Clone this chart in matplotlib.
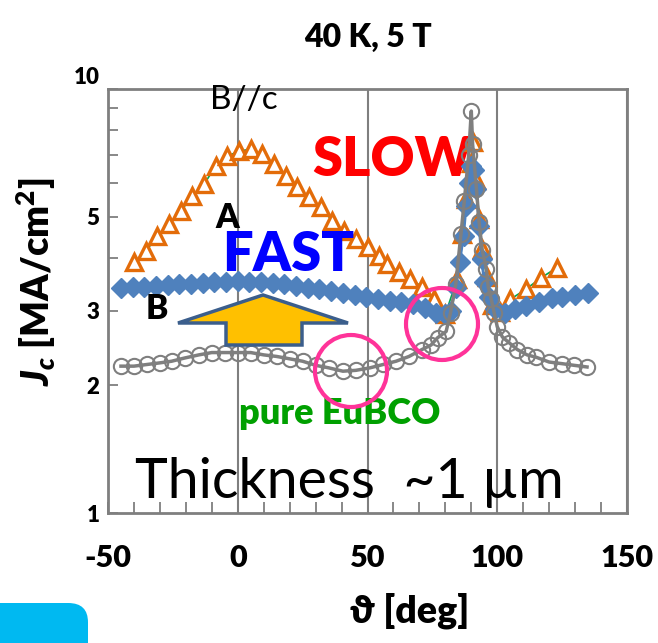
import matplotlib
matplotlib.use("Agg")
import matplotlib.pyplot as plt
import matplotlib.patches as mpatches
from matplotlib.ticker import FixedLocator, NullFormatter
import matplotlib.transforms as mtransforms

plt.rcParams["font.family"] = ["Lato", "DejaVu Sans"]
plt.rcParams["axes.unicode_minus"] = False
plt.rcParams["mathtext.fontset"] = "custom"
plt.rcParams["mathtext.rm"] = "Lato:heavy"
plt.rcParams["mathtext.it"] = "Lato:heavy:italic"
plt.rcParams["mathtext.bf"] = "Lato:heavy"

# sample A (slow) - triangles
angle_a = [-40, -35.5, -31, -26.5, -22, -17.5, -13, -8.5, -4, 0.5, 5, 9.5, 14, 18.5,
           23, 27.5, 32, 36.5, 41, 45.5, 50, 54.5, 57.5, 62, 66.5, 71, 75.5, 80,
           84.5, 86.5, 88, 90, 90.5, 92, 93, 94, 96, 98, 101, 105, 111, 117, 123]
jc_a = [3.9, 4.14, 4.49, 4.80, 5.15, 5.58, 5.96, 6.58, 6.94, 7.14, 7.21, 7.02, 6.65, 6.23,
        5.86, 5.55, 5.26, 4.88, 4.62, 4.42, 4.23, 4.03, 3.86, 3.71, 3.56, 3.42, 3.19, 2.94,
        3.56, 4.54, 5.5, 6.7, 7.5, 6.1, 4.93, 4.19, 3.6, 3.1, 2.98, 3.19, 3.37, 3.59, 3.79]

# sample B (fast) - diamonds
angle_b = [-45, -40.5, -36, -31.5, -27, -22.5, -18, -13.5, -9, -4.5, 0, 4.5, 9, 13.5,
           18, 22.5, 27, 31.5, 36, 40.5, 45, 49.5, 54, 58.5, 63, 67.5, 72, 76.5, 80,
           82, 84, 85.5, 87, 88, 89, 90, 91, 92, 93, 94, 95, 97, 99, 103, 107, 111,
           116, 121, 125, 130, 135]
jc_b = [3.40, 3.41, 3.42, 3.43, 3.45, 3.46, 3.47, 3.49, 3.50, 3.51, 3.52, 3.51, 3.50, 3.48,
        3.46, 3.43, 3.40, 3.37, 3.34, 3.30, 3.27, 3.23, 3.19, 3.16, 3.14, 3.11, 3.05, 2.97, 2.94,
        3.00, 3.40, 3.9, 4.5, 5.3, 6.0, 6.6, 6.45, 5.8, 4.75, 3.97, 3.5, 3.24, 3.02, 2.97, 3.02,
        3.07, 3.15, 3.22, 3.24, 3.27, 3.31]

# pure EuBCO - open circles
angle_p = [-45, -40, -35, -30, -25.5, -20.5, -15, -10, -5, 0, 5, 10, 15, 20, 25, 30, 35,
           40.5, 45.5, 51, 56, 61, 66, 71, 74.5, 77, 80.3, 82, 84, 86, 87.3, 89, 90, 90.5,
           92, 93, 94.2, 95.8, 96.5, 97.7, 98.8, 100, 102, 104.6, 107.7, 111.5, 115, 120,
           125, 129.6, 134.6]
jc_p = [2.22, 2.22, 2.24, 2.26, 2.28, 2.32, 2.36, 2.39, 2.39, 2.39, 2.39, 2.36, 2.34, 2.31,
        2.28, 2.23, 2.20, 2.16, 2.17, 2.20, 2.24, 2.28, 2.34, 2.43, 2.49, 2.59, 2.68, 2.97,
        3.46, 4.54, 5.44, 7.0, 8.87, 7.41, 5.8, 4.85, 4.18, 3.76, 3.42, 3.19, 2.97, 2.75,
        2.6, 2.52, 2.43, 2.36, 2.33, 2.27, 2.25, 2.23, 2.21]

x_ticks = [-50, 0, 50, 100, 150]
y_ticks = [1, 2, 3, 5, 10]

fig = plt.figure(figsize=(6.58, 6.43), dpi=100)
ax = fig.add_axes([108 / 658, 1 - 513 / 643, 519 / 658, 424 / 643])

ax.plot(angle_a, jc_a, color="#00A650", lw=1.2, marker="^", ms=11, mfc="white",
        mec="#E36C09", mew=2.4, zorder=3)
ax.plot(angle_b, jc_b, color="#4F81BD", lw=2, marker="D", ms=10, mfc="#4F81BD",
        mec="#4F81BD", zorder=4)
ax.plot(angle_p, jc_p, color="#7F7F7F", lw=2.5, marker="o", ms=11, mfc="none",
        mec="#7F7F7F", mew=1.5, zorder=5)

ax.set_yscale("log")
ax.set_xlim(-50, 150)
ax.set_ylim(1, 10)
ax.set_xticks(x_ticks)
ax.set_xticks(range(-50, 151, 10), minor=True)
ax.yaxis.set_major_locator(FixedLocator(y_ticks))
ax.yaxis.set_minor_locator(FixedLocator([4, 6, 7, 8, 9]))
ax.yaxis.set_minor_formatter(NullFormatter())
ax.set_yticklabels([str(v) for v in y_ticks])
ax.grid(axis="x", which="major", color="#7F7F7F", lw=1.5)
ax.tick_params(axis="x", which="both", direction="in", length=8, color="#7F7F7F",
               width=1.3, labelsize=22, pad=22)
ax.tick_params(axis="y", which="both", direction="in", length=7, color="#7F7F7F",
               width=1.3, labelsize=16, pad=6)
for lbl in ax.get_xticklabels() + ax.get_yticklabels():
    lbl.set_fontweight("heavy")
for lbl in ax.get_yticklabels():
    if lbl.get_text() == "10":
        lbl.set_transform(lbl.get_transform() + mtransforms.ScaledTranslation(0, 10 / 72, fig.dpi_scale_trans))
for s in ax.spines.values():
    s.set_color("#7F7F7F")
    s.set_linewidth(2)

ax.set_title("40 K, 5 T", fontsize=23, fontweight="heavy", pad=30)
ax.set_xlabel(r"ϑ [deg]", fontsize=27, fontweight="heavy", va="center")
ax.xaxis.set_label_coords((410 - 108) / 519, (513 - 611) / 424)
ax.set_ylabel(r"$J_c$ [MA/cm$^2$]", fontsize=27, fontweight="heavy", va="center")
ax.yaxis.set_label_coords((36 - 108) / 519, (513 - 282) / 424)

# annotations (axes fraction)
def ax_pos(px, py):
    return ((px - 108) / 519, (513 - py) / 424)

ax.text(*ax_pos(244, 100), "B//c", transform=ax.transAxes, fontsize=24,
        ha="center", va="center", zorder=6)
ax.text(*ax_pos(392, 160), "SLOW", transform=ax.transAxes, fontsize=39,
        fontweight="heavy", color="#FF0000", ha="center", va="center", zorder=2)
ax.text(*ax_pos(227, 218), "A", transform=ax.transAxes, fontsize=24,
        fontweight="heavy", ha="center", va="center", zorder=6)
ax.text(*ax_pos(288, 255), "FAST", transform=ax.transAxes, fontsize=39,
        fontweight="heavy", color="#0000FF", ha="center", va="center", zorder=6)
ax.text(*ax_pos(157, 309), "B", transform=ax.transAxes, fontsize=24,
        fontweight="heavy", ha="center", va="center", zorder=6)
ax.text(*ax_pos(340, 413), "pure EuBCO", transform=ax.transAxes, fontsize=26,
        fontweight="heavy", color="#00A000", ha="center", va="center", zorder=6)
ax.text(*ax_pos(349, 483), "Thickness  ~1 µm", transform=ax.transAxes, fontsize=40,
        ha="center", va="center", zorder=6)

arrow_px = [(263, 295), (348, 323), (302, 323), (302, 345), (226, 345), (226, 323), (178, 323)]
arrow = mpatches.Polygon([ax_pos(px, py) for px, py in arrow_px], closed=True,
                         transform=ax.transAxes, facecolor="#FFC000", edgecolor="#3B5E8C",
                         lw=2.5, zorder=6)
ax.add_patch(arrow)

for cx, cy in [(351, 371), (442, 324)]:
    ring = mpatches.Ellipse(ax_pos(cx, cy), 72 / 519, 72 / 424, transform=ax.transAxes,
                            facecolor="none", edgecolor="#FF3399", lw=3, zorder=7)
    ax.add_patch(ring)

blob = mpatches.FancyBboxPatch((-20 / 658, -20 / 643), 108 / 658, 60 / 643,
                               boxstyle="round,pad=0,rounding_size=0.03",
                               transform=fig.transFigure, facecolor="#00B9F1",
                               edgecolor="none")
fig.patches.append(blob)

fig.savefig("out.png", dpi=100)
